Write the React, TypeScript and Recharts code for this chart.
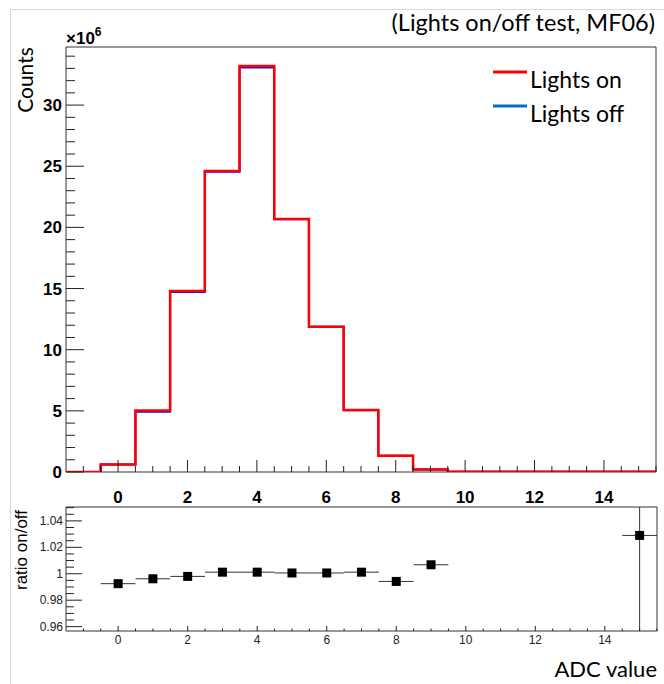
import React from 'react';
import { ComposedChart, Line, Scatter, ErrorBar, XAxis, YAxis, ReferenceArea } from 'recharts';

// Histogram bins (ADC value, bin centers) and counts in units of 10^6
const binCenters = [-1, 0, 1, 2, 3, 4, 5, 6, 7, 8, 9, 10, 11, 12, 13, 14, 15];
const countsOn = [0, 0.62, 5.02, 14.8, 24.62, 33.2, 20.68, 11.88, 5.06, 1.32, 0.2, 0.03, 0.02, 0.02, 0.02, 0.02, 0.02];
const countsOff = [0, 0.62, 4.93, 14.72, 24.54, 33.08, 20.66, 11.87, 5.05, 1.32, 0.2, 0.03, 0.02, 0.02, 0.02, 0.02, 0.02];

// Ratio on/off points
const ratioBins = [0, 1, 2, 3, 4, 5, 6, 7, 8, 9, 15];
const ratioValues = [0.9925, 0.9962, 0.998, 1.0012, 1.0012, 1.0006, 1.0006, 1.0012, 0.9942, 1.0068, 1.029];
const ratioErrors = [0.0002, 0.0001, 0.0001, 0.0001, 0.0001, 0.0001, 0.0001, 0.0002, 0.0004, 0.0015, 0.12];

// Tick labels
const xMajorLabels = [0, 2, 4, 6, 8, 10, 12, 14];
const countsMajorLabels = [0, 5, 10, 15, 20, 25, 30];
const ratioMajorLabels = [0.96, 0.98, 1, 1.02, 1.04];

const X_DOMAIN: [number, number] = [-1.5, 15.5];
const COUNTS_DOMAIN: [number, number] = [0, 34.75];
const RATIO_DOMAIN: [number, number] = [0.9567, 1.0505];

const histData = [
  ...binCenters.map((c, i) => ({ x: c - 0.5, on: countsOn[i], off: countsOff[i] })),
  {
    x: binCenters[binCenters.length - 1] + 0.5,
    on: countsOn[countsOn.length - 1],
    off: countsOff[countsOff.length - 1],
  },
];

const ratioData = ratioBins.map((b, i) => ({ x: b, r: ratioValues[i], ex: 0.5, ey: ratioErrors[i] }));

const xTicks: number[] = [];
for (let k = -2; k <= 31; k++) xTicks.push(k / 2);
const countsTicks: number[] = [];
for (let k = 0; k <= 34; k++) countsTicks.push(k);
const ratioTicks: number[] = [];
for (let k = 192; k <= 210; k++) ratioTicks.push(Math.round(k * 5) / 1000);

const isMajor = (list: number[], v: number) => list.some((m) => Math.abs(m - v) < 1e-9);

const helv = '"Liberation Sans", Arial, Helvetica, sans-serif';
const cal = 'Lato, "Open Sans", sans-serif';

const TopXTick = (props: any) => {
  const { x, y, payload } = props;
  const v = payload.value;
  const major = isMajor(xMajorLabels, v);
  return (
    <g>
      <line x1={x} x2={x} y1={y} y2={y - (major ? 12 : 6)} stroke="#222" strokeWidth={1} />
      {major && (
        <text x={x} y={y + 31} textAnchor="middle" fontFamily={helv} fontWeight="bold" fontSize={17} fill="#000">
          {v}
        </text>
      )}
    </g>
  );
};

const TopYTick = (props: any) => {
  const { x, y, payload } = props;
  const v = payload.value;
  const major = isMajor(countsMajorLabels, v);
  return (
    <g>
      <line x1={x} x2={x + (major ? 18 : 9)} y1={y} y2={y} stroke="#222" strokeWidth={1} />
      {major && (
        <text x={x - 4} y={y + 6} textAnchor="end" fontFamily={helv} fontWeight="bold" fontSize={17} fill="#000">
          {v}
        </text>
      )}
    </g>
  );
};

const BotXTick = (props: any) => {
  const { x, y, payload } = props;
  const v = payload.value;
  const major = isMajor(xMajorLabels, v);
  return (
    <g>
      <line x1={x} x2={x} y1={y} y2={y - (major ? 5 : 2.5)} stroke="#222" strokeWidth={1} />
      {major && (
        <text x={x} y={y + 13} textAnchor="middle" fontFamily={helv} fontSize={12} fill="#222">
          {v}
        </text>
      )}
    </g>
  );
};

const BotYTick = (props: any) => {
  const { x, y, payload } = props;
  const v = payload.value;
  const major = isMajor(ratioMajorLabels, v);
  return (
    <g>
      <line x1={x} x2={x + (major ? 16 : 8)} y1={y} y2={y} stroke="#222" strokeWidth={1} />
      {major && (
        <text x={x - 3} y={y + 4} textAnchor="end" fontFamily={helv} fontSize={12} fill="#222">
          {v}
        </text>
      )}
    </g>
  );
};

const SquareMarker = (props: any) => {
  const { cx, cy } = props;
  if (cx == null || cy == null) return null;
  return <rect x={cx - 4.5} y={cy - 4.5} width={9} height={9} fill="#000" />;
};

// plot area of the ratio panel inside its own svg (left 66, top 7, right 657, bottom 131)
const clipCss = `
.ratio-chart .recharts-errorBars, .ratio-chart .recharts-errorBar, .ratio-chart .recharts-scatter {
  clip-path: url(#ratioPlotClip);
}
`;

export default function App() {
  return (
    <div style={{ position: 'absolute', left: 0, top: 0, width: 664, height: 684, background: '#fff' }}>
      <style>{clipCss}</style>
      <svg width={0} height={0} style={{ position: 'absolute' }}>
        <defs>
          <clipPath id="ratioPlotClip" clipPathUnits="userSpaceOnUse">
            <rect x={66} y={7} width={591} height={124} />
          </clipPath>
        </defs>
      </svg>
      <div style={{ position: 'absolute', left: 0, top: 0 }}>
        <ComposedChart width={664} height={520} data={histData} margin={{ top: 47, right: 8, left: 10, bottom: 8 }}>
          <XAxis
            type="number"
            dataKey="x"
            domain={X_DOMAIN}
            ticks={xTicks.filter((t) => t >= -1)}
            interval={0}
            tickSize={0}
            tickMargin={0}
            axisLine={false}
            tickLine={false}
            height={40}
            tick={TopXTick}
            allowDataOverflow
          />
          <YAxis
            type="number"
            domain={COUNTS_DOMAIN}
            ticks={countsTicks}
            interval={0}
            width={56}
            tickSize={0}
            tickMargin={0}
            axisLine={false}
            tickLine={false}
            tick={TopYTick}
            allowDataOverflow
          />
          <Line type="stepAfter" dataKey="off" stroke="#1010e0" strokeWidth={2} dot={false} isAnimationActive={false} />
          <Line type="stepAfter" dataKey="on" stroke="#ff0000" strokeWidth={2.5} dot={false} isAnimationActive={false} />
          <ReferenceArea
            x1={X_DOMAIN[0]}
            x2={X_DOMAIN[1]}
            y1={COUNTS_DOMAIN[0]}
            y2={COUNTS_DOMAIN[1]}
            fill="none"
            fillOpacity={0}
            stroke="#333"
            strokeWidth={1}
            ifOverflow="visible"
          />
        </ComposedChart>
      </div>
      <div className="ratio-chart" style={{ position: 'absolute', left: 0, top: 500 }}>
        <ComposedChart width={664} height={184} margin={{ top: 7, right: 7, left: 10, bottom: 23 }}>
          <XAxis
            type="number"
            dataKey="x"
            domain={X_DOMAIN}
            ticks={xTicks.filter((t) => t >= -1)}
            interval={0}
            tickSize={0}
            tickMargin={0}
            axisLine={false}
            tickLine={false}
            height={30}
            tick={BotXTick}
            allowDataOverflow
          />
          <YAxis
            type="number"
            domain={RATIO_DOMAIN}
            ticks={ratioTicks}
            interval={0}
            width={56}
            tickSize={0}
            tickMargin={0}
            axisLine={false}
            tickLine={false}
            tick={BotYTick}
            allowDataOverflow
          />
          <ReferenceArea
            x1={X_DOMAIN[0]}
            x2={X_DOMAIN[1]}
            y1={RATIO_DOMAIN[0]}
            y2={RATIO_DOMAIN[1]}
            fill="none"
            fillOpacity={0}
            stroke="#333"
            strokeWidth={1}
            ifOverflow="visible"
          />
          <Scatter data={ratioData} dataKey="r" shape={SquareMarker} isAnimationActive={false}>
            <ErrorBar dataKey="ex" direction="x" width={0} stroke="#333" strokeWidth={1} isAnimationActive={false} />
            <ErrorBar dataKey="ey" direction="y" width={0} stroke="#333" strokeWidth={1} isAnimationActive={false} />
          </Scatter>
        </ComposedChart>
      </div>
      <svg
        width={664}
        height={684}
        style={{ position: 'absolute', left: 0, top: 0, pointerEvents: 'none' }}
      >
        <line x1={10.5} x2={10.5} y1={9} y2={684} stroke="#d9d9d9" strokeWidth={1} />
        <line x1={10} x2={664} y1={9.5} y2={9.5} stroke="#d9d9d9" strokeWidth={1} />
        <text x={655} y={31} textAnchor="end" fontFamily={cal} fontSize={23.5} fill="#000">
          (Lights on/off test, MF06)
        </text>
        <text x={66} y={44} fontFamily={helv} fontWeight="bold" fontSize={17} fill="#000">
          ×10
          <tspan fontSize={12} dy={-8}>6</tspan>
        </text>
        <text transform="translate(33,80) rotate(-90)" textAnchor="middle" fontFamily={cal} fontSize={21} fill="#000">
          Counts
        </text>
        <text transform="translate(27,550) rotate(-90)" textAnchor="middle" fontFamily={helv} fontSize={17} fill="#000">
          ratio on/off
        </text>
        <line x1={493} x2={527} y1={72} y2={72} stroke="#ff0000" strokeWidth={3} />
        <text x={530} y={88} fontFamily={cal} fontSize={23} fill="#000">
          Lights on
        </text>
        <line x1={493} x2={527} y1={106} y2={106} stroke="#0070c0" strokeWidth={3} />
        <text x={530} y={122} fontFamily={cal} fontSize={23} fill="#000">
          Lights off
        </text>
        <text x={657} y={677} textAnchor="end" fontFamily={cal} fontSize={22} fill="#000">
          ADC value
        </text>
      </svg>
    </div>
  );
}
